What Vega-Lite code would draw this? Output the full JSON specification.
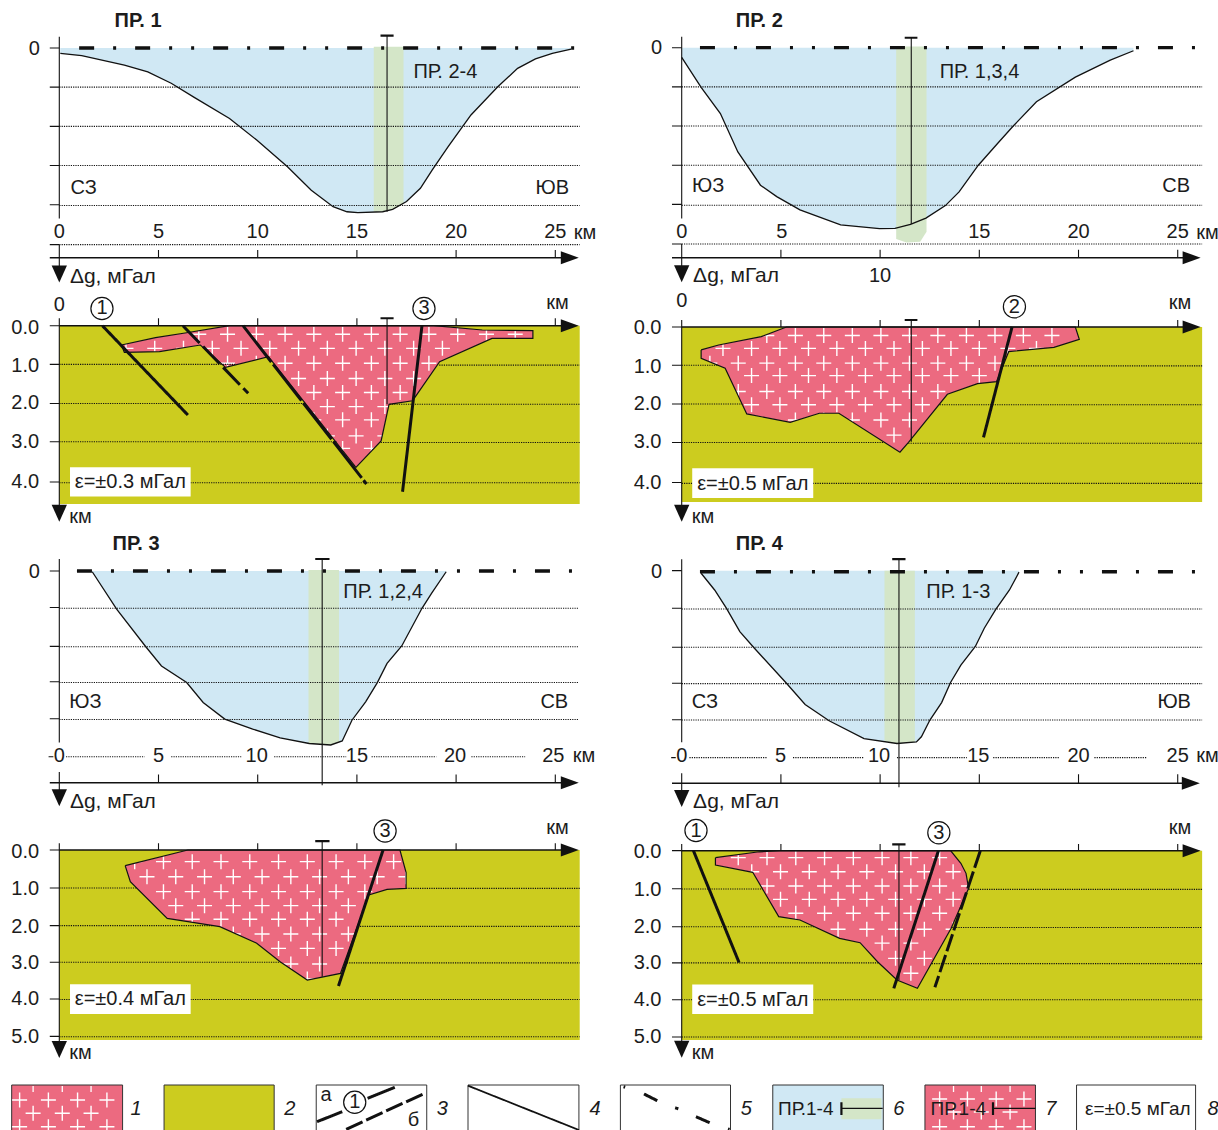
{"$schema":"https://vega.github.io/schema/vega-lite/v6.json","padding":0,"background":"white","columns":2,"spacing":0,"bounds":"flush","align":"each","config":{"view":{"stroke":null},"text":{"font":"Liberation Sans","color":"#1c1c1c"}},
"datasets":{
"c1":[{"x":0.05,"y":0.136},{"x":1.13,"y":0.196},{"x":3.28,"y":0.44},{"x":4.46,"y":0.61},{"x":5.64,"y":0.9},{"x":6.8,"y":1.26},{"x":8.58,"y":1.8},{"x":9.95,"y":2.35},{"x":11.5,"y":3.03},{"x":12.7,"y":3.63},{"x":13.8,"y":4.05},{"x":14.5,"y":4.18},{"x":15.05,"y":4.2},{"x":16.3,"y":4.18},{"x":16.8,"y":4.12},{"x":17.5,"y":3.92},{"x":18.2,"y":3.58},{"x":18.8,"y":3.11},{"x":19.6,"y":2.52},{"x":20.75,"y":1.71},{"x":22.1,"y":0.99},{"x":23.1,"y":0.52},{"x":24.0,"y":0.28},{"x":24.85,"y":0.136},{"x":25.8,"y":0.03}],
"c2":[{"x":0,"y":0.247},{"x":0.98,"y":1.01},{"x":1.95,"y":1.68},{"x":2.83,"y":2.66},{"x":3.97,"y":3.51},{"x":4.79,"y":3.8},{"x":5.96,"y":4.14},{"x":8.01,"y":4.52},{"x":9.97,"y":4.62},{"x":10.75,"y":4.61},{"x":11.53,"y":4.51},{"x":12.31,"y":4.35},{"x":13.29,"y":4.03},{"x":13.98,"y":3.68},{"x":14.95,"y":3.0},{"x":15.93,"y":2.44},{"x":16.71,"y":2.0},{"x":17.88,"y":1.38},{"x":19.84,"y":0.75},{"x":21.6,"y":0.315},{"x":22.77,"y":0.077}],
"c3":[{"x":1.66,"y":0.02},{"x":2.89,"y":1.03},{"x":4.36,"y":2.05},{"x":5.15,"y":2.57},{"x":6.42,"y":3.02},{"x":7.25,"y":3.56},{"x":8.34,"y":4.01},{"x":9.75,"y":4.28},{"x":11.13,"y":4.52},{"x":12.6,"y":4.67},{"x":13.68,"y":4.71},{"x":14.26,"y":4.6},{"x":14.75,"y":4.04},{"x":15.44,"y":3.54},{"x":16.03,"y":3.02},{"x":16.52,"y":2.5},{"x":17.26,"y":2.03},{"x":18.28,"y":1.01},{"x":18.77,"y":0.6},{"x":19.5,"y":0.02}],
"c4":[{"x":0.98,"y":0.07},{"x":1.66,"y":0.52},{"x":2.25,"y":1.01},{"x":2.93,"y":1.64},{"x":3.62,"y":2.06},{"x":5.28,"y":3.03},{"x":6.22,"y":3.6},{"x":7.43,"y":4.04},{"x":9.19,"y":4.52},{"x":10.85,"y":4.65},{"x":11.83,"y":4.61},{"x":12.08,"y":4.47},{"x":12.51,"y":4.02},{"x":13.1,"y":3.55},{"x":13.55,"y":3.01},{"x":14.07,"y":2.54},{"x":14.8,"y":2.04},{"x":15.25,"y":1.55},{"x":15.83,"y":1.04},{"x":16.52,"y":0.52},{"x":17.0,"y":0.04}],
"bd1":[{"x":15.85,"y":4.18,"y0":-0.03},{"x":16.3,"y":4.18,"y0":-0.03},{"x":16.8,"y":4.12,"y0":-0.03},{"x":17.35,"y":3.98,"y0":-0.03}],
"bd2":[{"x":10.81,"y":4.885,"y0":-0.03},{"x":11.33,"y":4.97,"y0":-0.03},{"x":12.02,"y":4.95,"y0":-0.03},{"x":12.34,"y":4.7,"y0":-0.03}],
"bd3":[{"x":12.56,"y":4.66,"y0":-0.03},{"x":13.68,"y":4.71,"y0":-0.03},{"x":14.1,"y":4.63,"y0":-0.03}],
"bd4":[{"x":10.22,"y":4.6,"y0":0},{"x":10.85,"y":4.65,"y0":0},{"x":11.75,"y":4.62,"y0":0}],
"l1":[{"k":"thin","x":0,"x2":0,"y":-0.29,"y2":4.35},{"k":"thin","x":-0.48,"x2":0,"y":0,"y2":0},{"k":"thin","x":-0.48,"x2":0,"y":1,"y2":1},{"k":"thin","x":-0.48,"x2":0,"y":2,"y2":2},{"k":"thin","x":-0.48,"x2":0,"y":3,"y2":3},{"k":"thin","x":-0.48,"x2":0,"y":4,"y2":4},{"k":"dot","x":0,"x2":26.23,"y":1,"y2":1},{"k":"dot","x":0,"x2":26.23,"y":2,"y2":2},{"k":"dot","x":0,"x2":26.23,"y":3,"y2":3},{"k":"dot","x":0,"x2":26.23,"y":4.02,"y2":4.02},{"k":"thin","x":-0.48,"x2":0,"y":5.02,"y2":5.02},{"k":"dot","x":0,"x2":26.23,"y":5.02,"y2":5.02},{"k":"axis","x":-0.48,"x2":25.3,"y":5.353,"y2":5.353},{"k":"thin","x":0,"x2":0,"y":5.02,"y2":5.6},{"k":"thin","x":5,"x2":5,"y":5.157,"y2":5.353},{"k":"thin","x":10,"x2":10,"y":5.157,"y2":5.353},{"k":"thin","x":15,"x2":15,"y":5.157,"y2":5.353},{"k":"thin","x":20,"x2":20,"y":5.157,"y2":5.353},{"k":"thin","x":25,"x2":25,"y":5.157,"y2":5.353},{"k":"thin","x":16.52,"x2":16.52,"y":-0.315,"y2":4.18},{"k":"cap","x":16.19,"x2":16.85,"y":-0.315,"y2":-0.315},{"k":"dd","x":1.0,"x2":26.25,"y":0,"y2":0}],
"l2":[{"k":"thin","x":0,"x2":0,"y":-0.28,"y2":4.36},{"k":"thin","x":-0.49,"x2":0,"y":0,"y2":0},{"k":"thin","x":-0.49,"x2":0,"y":1,"y2":1},{"k":"thin","x":-0.49,"x2":0,"y":2,"y2":2},{"k":"thin","x":-0.49,"x2":0,"y":3,"y2":3},{"k":"thin","x":-0.49,"x2":0,"y":4,"y2":4},{"k":"dot","x":0,"x2":26.23,"y":1,"y2":1},{"k":"dot","x":0,"x2":26.23,"y":2,"y2":2},{"k":"dot","x":0,"x2":26.23,"y":3,"y2":3},{"k":"dot","x":0,"x2":26.23,"y":4.02,"y2":4.02},{"k":"thin","x":-0.49,"x2":0,"y":5.01,"y2":5.01},{"k":"dot","x":0,"x2":26.23,"y":5.01,"y2":5.01},{"k":"axis","x":-0.49,"x2":25.3,"y":5.36,"y2":5.36},{"k":"thin","x":0,"x2":0,"y":5.01,"y2":5.6},{"k":"thin","x":5,"x2":5,"y":5.157,"y2":5.36},{"k":"thin","x":10,"x2":10,"y":5.157,"y2":5.36},{"k":"thin","x":15,"x2":15,"y":5.157,"y2":5.36},{"k":"thin","x":20,"x2":20,"y":5.157,"y2":5.36},{"k":"thin","x":25,"x2":25,"y":5.157,"y2":5.36},{"k":"thin","x":11.57,"x2":11.57,"y":-0.255,"y2":4.5},{"k":"cap","x":11.24,"x2":11.88,"y":-0.255,"y2":-0.255},{"k":"dd","x":0.92,"x2":26.25,"y":0,"y2":0}],
"l3":[{"k":"thin","x":0,"x2":0,"y":-0.325,"y2":4.64},{"k":"thin","x":-0.48,"x2":0,"y":0,"y2":0},{"k":"thin","x":-0.48,"x2":0,"y":0.99,"y2":0.99},{"k":"thin","x":-0.48,"x2":0,"y":2.04,"y2":2.04},{"k":"thin","x":-0.48,"x2":0,"y":3,"y2":3},{"k":"thin","x":-0.48,"x2":0,"y":4,"y2":4},{"k":"dot","x":0,"x2":26.2,"y":1.01,"y2":1.01},{"k":"dot","x":0,"x2":26.2,"y":2.05,"y2":2.05},{"k":"dot","x":0,"x2":26.2,"y":3.02,"y2":3.02},{"k":"dot","x":0,"x2":26.2,"y":4.02,"y2":4.02},{"k":"thin","x":-0.54,"x2":-0.3,"y":5.03,"y2":5.03},{"k":"dot","x":0.34,"x2":4.3,"y":5.03,"y2":5.03},{"k":"dot","x":5.64,"x2":9.17,"y":5.03,"y2":5.03},{"k":"dot","x":10.83,"x2":14.46,"y":5.03,"y2":5.03},{"k":"dot","x":15.74,"x2":19.0,"y":5.03,"y2":5.03},{"k":"dot","x":20.77,"x2":23.48,"y":5.03,"y2":5.03},{"k":"axis","x":-0.48,"x2":25.3,"y":5.73,"y2":5.73},{"k":"thin","x":0,"x2":0,"y":5.44,"y2":6},{"k":"thin","x":5,"x2":5,"y":5.51,"y2":5.73},{"k":"thin","x":10,"x2":10,"y":5.51,"y2":5.73},{"k":"thin","x":15,"x2":15,"y":5.51,"y2":5.73},{"k":"thin","x":20,"x2":20,"y":5.51,"y2":5.73},{"k":"thin","x":25,"x2":25,"y":5.51,"y2":5.73},{"k":"thin","x":13.25,"x2":13.25,"y":-0.325,"y2":5.8},{"k":"cap","x":12.9,"x2":13.62,"y":-0.325,"y2":-0.325},{"k":"dd","x":0.89,"x2":26.2,"y":0,"y2":0}],
"l4":[{"k":"thin","x":0,"x2":0,"y":-0.31,"y2":4.62},{"k":"thin","x":-0.49,"x2":0,"y":0,"y2":0},{"k":"thin","x":-0.49,"x2":0,"y":1.01,"y2":1.01},{"k":"thin","x":-0.49,"x2":0,"y":2.06,"y2":2.06},{"k":"thin","x":-0.49,"x2":0,"y":3.03,"y2":3.03},{"k":"thin","x":-0.49,"x2":0,"y":4.01,"y2":4.01},{"k":"dot","x":0,"x2":26.23,"y":1.03,"y2":1.03},{"k":"dot","x":0,"x2":26.23,"y":2.06,"y2":2.06},{"k":"dot","x":0,"x2":26.23,"y":3.04,"y2":3.04},{"k":"dot","x":0,"x2":26.23,"y":4.02,"y2":4.02},{"k":"thin","x":-0.53,"x2":-0.3,"y":5.03,"y2":5.03},{"k":"dot","x":0.39,"x2":4.3,"y":5.03,"y2":5.03},{"k":"dot","x":5.61,"x2":9.19,"y":5.03,"y2":5.03},{"k":"dot","x":10.85,"x2":14.37,"y":5.03,"y2":5.03},{"k":"dot","x":15.7,"x2":19.02,"y":5.03,"y2":5.03},{"k":"dot","x":20.8,"x2":23.46,"y":5.03,"y2":5.03},{"k":"axis","x":-0.49,"x2":25.3,"y":5.72,"y2":5.72},{"k":"thin","x":0,"x2":0,"y":5.45,"y2":6},{"k":"thin","x":5,"x2":5,"y":5.48,"y2":5.72},{"k":"thin","x":10,"x2":10,"y":5.48,"y2":5.72},{"k":"thin","x":15,"x2":15,"y":5.48,"y2":5.72},{"k":"thin","x":20,"x2":20,"y":5.48,"y2":5.72},{"k":"thin","x":25,"x2":25,"y":5.48,"y2":5.72},{"k":"thin","x":10.95,"x2":10.95,"y":-0.31,"y2":5.83},{"k":"cap","x":10.61,"x2":11.28,"y":-0.31,"y2":-0.31},{"k":"dd","x":0.92,"x2":26.25,"y":0.03,"y2":0.03}],
"t1":[{"x":-1.26,"y":0.03,"t":"0"},{"x":19.46,"y":0.62,"t":"ПР. 2-4"},{"x":1.23,"y":3.57,"t":"СЗ"},{"x":24.85,"y":3.57,"t":"ЮВ"},{"x":0,"y":4.69,"t":"0"},{"x":5,"y":4.69,"t":"5"},{"x":10,"y":4.69,"t":"10"},{"x":15,"y":4.69,"t":"15"},{"x":20,"y":4.69,"t":"20"},{"x":25,"y":4.69,"t":"25"},{"x":26.5,"y":4.71,"t":"км"},{"x":2.7,"y":5.84,"t":"Δg, мГал"}],
"t2":[{"x":-1.27,"y":0,"t":"0"},{"x":15.01,"y":0.61,"t":"ПР. 1,3,4"},{"x":1.33,"y":3.52,"t":"ЮЗ"},{"x":24.92,"y":3.52,"t":"СВ"},{"x":0,"y":4.7,"t":"0"},{"x":5.04,"y":4.7,"t":"5"},{"x":15,"y":4.7,"t":"15"},{"x":20,"y":4.7,"t":"20"},{"x":25,"y":4.7,"t":"25"},{"x":26.5,"y":4.72,"t":"км"},{"x":2.74,"y":5.83,"t":"Δg, мГал"},{"x":10,"y":5.83,"t":"10"}],
"t3":[{"x":-1.26,"y":0.04,"t":"0"},{"x":16.32,"y":0.58,"t":"ПР. 1,2,4"},{"x":1.32,"y":3.54,"t":"ЮЗ"},{"x":24.95,"y":3.54,"t":"СВ"},{"x":0,"y":5,"t":"0"},{"x":5,"y":5,"t":"5"},{"x":9.95,"y":5,"t":"10"},{"x":15,"y":5,"t":"15"},{"x":19.95,"y":5,"t":"20"},{"x":24.9,"y":5,"t":"25"},{"x":26.45,"y":5.02,"t":"км"},{"x":2.7,"y":6.25,"t":"Δg, мГал"}],
"t4":[{"x":-1.27,"y":0.04,"t":"0"},{"x":13.94,"y":0.58,"t":"ПР. 1-3"},{"x":1.17,"y":3.54,"t":"СЗ"},{"x":24.82,"y":3.54,"t":"ЮВ"},{"x":0,"y":4.98,"t":"0"},{"x":4.98,"y":4.98,"t":"5"},{"x":9.95,"y":4.98,"t":"10"},{"x":14.95,"y":4.98,"t":"15"},{"x":20,"y":4.98,"t":"20"},{"x":25,"y":4.98,"t":"25"},{"x":26.5,"y":5,"t":"км"},{"x":2.74,"y":6.22,"t":"Δg, мГал"}],
"B1":[{"s":"body","x":3.13,"y":0.495},{"s":"body","x":4.85,"y":0.307},{"s":"body","x":6.42,"y":0.18},{"s":"body","x":8.58,"y":0},{"s":"body","x":18.87,"y":0},{"s":"body","x":21.32,"y":0.11},{"s":"body","x":23.87,"y":0.128},{"s":"body","x":23.87,"y":0.324},{"s":"body","x":21.81,"y":0.324},{"s":"body","x":19.17,"y":0.921},{"s":"body","x":17.95,"y":1.817},{"s":"body","x":17.8,"y":1.92},{"s":"body","x":16.62,"y":2.013},{"s":"body","x":16.22,"y":2.95},{"s":"body","x":14.95,"y":3.625},{"s":"body","x":10.54,"y":0.793},{"s":"body","x":8.38,"y":1.066},{"s":"body","x":7.11,"y":0.495},{"s":"body","x":5.05,"y":0.665},{"s":"body","x":3.28,"y":0.682},{"s":"body","x":3.13,"y":0.495},{"s":"frame","x":0,"y":0},{"s":"frame","x":0,"y":4.563},{"s":"frame","x":26.23,"y":4.563},{"s":"frame","x":26.23,"y":0},{"s":"frame","x":0,"y":0}],
"B2":[{"s":"body","x":0.98,"y":0.59},{"s":"body","x":1.86,"y":0.463},{"s":"body","x":4.01,"y":0.248},{"s":"body","x":5.28,"y":0},{"s":"body","x":19.84,"y":0},{"s":"body","x":20.04,"y":0.317},{"s":"body","x":18.76,"y":0.522},{"s":"body","x":16.48,"y":0.634},{"s":"body","x":15.87,"y":1.405},{"s":"body","x":14.91,"y":1.456},{"s":"body","x":13.39,"y":1.73},{"s":"body","x":11.43,"y":2.964},{"s":"body","x":11.0,"y":3.22},{"s":"body","x":7.92,"y":2.218},{"s":"body","x":6.94,"y":2.218},{"s":"body","x":5.47,"y":2.45},{"s":"body","x":3.28,"y":2.236},{"s":"body","x":2.19,"y":1.062},{"s":"body","x":0.98,"y":0.805},{"s":"body","x":0.98,"y":0.59},{"s":"frame","x":0,"y":0},{"s":"frame","x":0,"y":4.497},{"s":"frame","x":26.23,"y":4.497},{"s":"frame","x":26.23,"y":0},{"s":"frame","x":0,"y":0}],
"B3":[{"s":"body","x":3.32,"y":0.42},{"s":"body","x":6.48,"y":0},{"s":"body","x":17.17,"y":0},{"s":"body","x":17.48,"y":0.608},{"s":"body","x":17.48,"y":1.029},{"s":"body","x":16.52,"y":1.055},{"s":"body","x":15.6,"y":1.207},{"s":"body","x":14.17,"y":3.31},{"s":"body","x":12.5,"y":3.49},{"s":"body","x":11.13,"y":3.0},{"s":"body","x":9.95,"y":2.5},{"s":"body","x":8.09,"y":2.057},{"s":"body","x":5.44,"y":1.834},{"s":"body","x":3.58,"y":0.85},{"s":"body","x":3.32,"y":0.42},{"s":"frame","x":0,"y":0},{"s":"frame","x":0,"y":5.1},{"s":"frame","x":26.23,"y":5.1},{"s":"frame","x":26.23,"y":0},{"s":"frame","x":0,"y":0}],
"B4":[{"s":"body","x":1.7,"y":0.188},{"s":"body","x":3.91,"y":0.03},{"s":"body","x":4.98,"y":0},{"s":"body","x":13.55,"y":0},{"s":"body","x":14.07,"y":0.34},{"s":"body","x":14.33,"y":0.608},{"s":"body","x":14.46,"y":1.01},{"s":"body","x":13.58,"y":2.084},{"s":"body","x":11.88,"y":3.694},{"s":"body","x":10.85,"y":3.47},{"s":"body","x":9.87,"y":2.98},{"s":"body","x":8.99,"y":2.469},{"s":"body","x":7.96,"y":2.352},{"s":"body","x":5.96,"y":1.86},{"s":"body","x":4.89,"y":1.77},{"s":"body","x":3.58,"y":0.581},{"s":"body","x":1.7,"y":0.385},{"s":"body","x":1.7,"y":0.188},{"s":"frame","x":0,"y":0},{"s":"frame","x":0,"y":5.08},{"s":"frame","x":26.23,"y":5.08},{"s":"frame","x":26.23,"y":0},{"s":"frame","x":0,"y":0}],
"P1":[{"x":7.03,"y":0.22},{"x":8.48,"y":0.22},{"x":9.93,"y":0.22},{"x":11.38,"y":0.22},{"x":12.83,"y":0.22},{"x":14.28,"y":0.22},{"x":15.73,"y":0.22},{"x":17.18,"y":0.22},{"x":18.63,"y":0.22},{"x":20.08,"y":0.22},{"x":21.53,"y":0.22},{"x":22.98,"y":0.22},{"x":3.36,"y":0.58},{"x":4.81,"y":0.58},{"x":6.26,"y":0.58},{"x":7.71,"y":0.58},{"x":9.16,"y":0.58},{"x":10.61,"y":0.58},{"x":12.06,"y":0.58},{"x":13.51,"y":0.58},{"x":14.96,"y":0.58},{"x":16.41,"y":0.58},{"x":17.86,"y":0.58},{"x":19.31,"y":0.58},{"x":8.48,"y":0.96},{"x":9.93,"y":0.96},{"x":11.38,"y":0.96},{"x":12.83,"y":0.96},{"x":14.28,"y":0.96},{"x":15.73,"y":0.96},{"x":17.18,"y":0.96},{"x":18.63,"y":0.96},{"x":12.06,"y":1.35},{"x":13.51,"y":1.35},{"x":14.96,"y":1.35},{"x":16.41,"y":1.35},{"x":17.86,"y":1.35},{"x":12.83,"y":1.71},{"x":14.28,"y":1.71},{"x":15.73,"y":1.71},{"x":17.18,"y":1.71},{"x":13.51,"y":2.07},{"x":14.96,"y":2.07},{"x":16.41,"y":2.07},{"x":12.83,"y":2.41},{"x":14.28,"y":2.41},{"x":15.73,"y":2.41},{"x":13.51,"y":2.82},{"x":14.96,"y":2.82},{"x":16.41,"y":2.82},{"x":14.28,"y":3.14},{"x":15.73,"y":3.14}],
"P2":[{"x":4.29,"y":0.22},{"x":5.73,"y":0.22},{"x":7.16,"y":0.22},{"x":8.6,"y":0.22},{"x":10.04,"y":0.22},{"x":11.48,"y":0.22},{"x":12.91,"y":0.22},{"x":14.35,"y":0.22},{"x":15.79,"y":0.22},{"x":17.22,"y":0.22},{"x":18.66,"y":0.22},{"x":2.08,"y":0.55},{"x":3.52,"y":0.55},{"x":4.95,"y":0.55},{"x":6.39,"y":0.55},{"x":7.82,"y":0.55},{"x":9.26,"y":0.55},{"x":10.7,"y":0.55},{"x":12.13,"y":0.55},{"x":13.57,"y":0.55},{"x":15.0,"y":0.55},{"x":16.44,"y":0.55},{"x":17.88,"y":0.55},{"x":1.42,"y":0.93},{"x":2.85,"y":0.93},{"x":4.29,"y":0.93},{"x":5.73,"y":0.93},{"x":7.16,"y":0.93},{"x":8.6,"y":0.93},{"x":10.04,"y":0.93},{"x":11.48,"y":0.93},{"x":12.91,"y":0.93},{"x":14.35,"y":0.93},{"x":15.79,"y":0.93},{"x":3.52,"y":1.25},{"x":4.95,"y":1.25},{"x":6.39,"y":1.25},{"x":7.82,"y":1.25},{"x":9.26,"y":1.25},{"x":10.7,"y":1.25},{"x":12.13,"y":1.25},{"x":13.57,"y":1.25},{"x":15.0,"y":1.25},{"x":2.85,"y":1.66},{"x":4.29,"y":1.66},{"x":5.73,"y":1.66},{"x":7.16,"y":1.66},{"x":8.6,"y":1.66},{"x":10.04,"y":1.66},{"x":11.48,"y":1.66},{"x":12.91,"y":1.66},{"x":3.52,"y":2.0},{"x":4.95,"y":2.0},{"x":6.39,"y":2.0},{"x":7.82,"y":2.0},{"x":9.26,"y":2.0},{"x":10.7,"y":2.0},{"x":12.13,"y":2.0},{"x":5.73,"y":2.39},{"x":7.16,"y":2.39},{"x":8.6,"y":2.39},{"x":10.04,"y":2.39},{"x":11.48,"y":2.39},{"x":10.7,"y":2.78}],
"P3":[{"x":3.8,"y":0.313},{"x":5.25,"y":0.313},{"x":6.7,"y":0.313},{"x":8.15,"y":0.313},{"x":9.6,"y":0.313},{"x":11.05,"y":0.313},{"x":12.5,"y":0.313},{"x":13.95,"y":0.313},{"x":15.4,"y":0.313},{"x":16.85,"y":0.313},{"x":4.42,"y":0.716},{"x":5.87,"y":0.716},{"x":7.32,"y":0.716},{"x":8.77,"y":0.716},{"x":10.22,"y":0.716},{"x":11.67,"y":0.716},{"x":13.12,"y":0.716},{"x":14.57,"y":0.716},{"x":16.02,"y":0.716},{"x":17.47,"y":0.716},{"x":5.25,"y":1.118},{"x":6.7,"y":1.118},{"x":8.15,"y":1.118},{"x":9.6,"y":1.118},{"x":11.05,"y":1.118},{"x":12.5,"y":1.118},{"x":13.95,"y":1.118},{"x":15.4,"y":1.118},{"x":5.87,"y":1.494},{"x":7.32,"y":1.494},{"x":8.77,"y":1.494},{"x":10.22,"y":1.494},{"x":11.67,"y":1.494},{"x":13.12,"y":1.494},{"x":14.57,"y":1.494},{"x":6.7,"y":1.86},{"x":8.15,"y":1.86},{"x":9.6,"y":1.86},{"x":11.05,"y":1.86},{"x":12.5,"y":1.86},{"x":13.95,"y":1.86},{"x":8.77,"y":2.254},{"x":10.22,"y":2.254},{"x":11.67,"y":2.254},{"x":13.12,"y":2.254},{"x":14.57,"y":2.254},{"x":11.05,"y":2.64},{"x":12.5,"y":2.64},{"x":13.95,"y":2.64},{"x":11.67,"y":3.06},{"x":13.12,"y":3.06},{"x":12.5,"y":3.46}],
"P4":[{"x":2.85,"y":0.188},{"x":4.3,"y":0.188},{"x":5.75,"y":0.188},{"x":7.2,"y":0.188},{"x":8.65,"y":0.188},{"x":10.1,"y":0.188},{"x":11.55,"y":0.188},{"x":13.0,"y":0.188},{"x":3.53,"y":0.564},{"x":4.98,"y":0.564},{"x":6.43,"y":0.564},{"x":7.88,"y":0.564},{"x":9.33,"y":0.564},{"x":10.78,"y":0.564},{"x":12.23,"y":0.564},{"x":13.68,"y":0.564},{"x":4.3,"y":0.948},{"x":5.75,"y":0.948},{"x":7.2,"y":0.948},{"x":8.65,"y":0.948},{"x":10.1,"y":0.948},{"x":11.55,"y":0.948},{"x":13.0,"y":0.948},{"x":14.45,"y":0.948},{"x":4.98,"y":1.306},{"x":6.43,"y":1.306},{"x":7.88,"y":1.306},{"x":9.33,"y":1.306},{"x":10.78,"y":1.306},{"x":12.23,"y":1.306},{"x":13.68,"y":1.306},{"x":5.75,"y":1.68},{"x":7.2,"y":1.68},{"x":8.65,"y":1.68},{"x":10.1,"y":1.68},{"x":11.55,"y":1.68},{"x":13.0,"y":1.68},{"x":7.88,"y":2.11},{"x":9.33,"y":2.11},{"x":10.78,"y":2.11},{"x":12.23,"y":2.11},{"x":13.68,"y":2.11},{"x":10.1,"y":2.48},{"x":11.55,"y":2.48},{"x":10.78,"y":2.89},{"x":12.23,"y":2.89},{"x":11.55,"y":3.29}],
"L1":[{"k":"thin","x":0,"x2":0,"y":-0.19,"y2":4.67},{"k":"axis","x":0,"x2":25.3,"y":0,"y2":0},{"k":"thin","x":-0.48,"x2":0,"y":0,"y2":0},{"k":"thin","x":-0.48,"x2":0,"y":0.99,"y2":0.99},{"k":"thin","x":-0.48,"x2":0,"y":1.99,"y2":1.99},{"k":"thin","x":-0.48,"x2":0,"y":2.97,"y2":2.97},{"k":"thin","x":-0.48,"x2":0,"y":4,"y2":4},{"k":"thin","x":5,"x2":5,"y":-0.19,"y2":0},{"k":"thin","x":10,"x2":10,"y":-0.19,"y2":0},{"k":"thin","x":15,"x2":15,"y":-0.19,"y2":0},{"k":"thin","x":20,"x2":20,"y":-0.19,"y2":0},{"k":"thin","x":25,"x2":25,"y":-0.19,"y2":0},{"k":"dot","x":0,"x2":8.9,"y":0.99,"y2":0.99},{"k":"dot","x":19.15,"x2":26.23,"y":1.01,"y2":1.01},{"k":"dot","x":0,"x2":12.4,"y":1.99,"y2":1.99},{"k":"dot","x":16.65,"x2":26.23,"y":2.01,"y2":2.01},{"k":"dot","x":0,"x2":14.0,"y":2.97,"y2":2.97},{"k":"dot","x":16.2,"x2":26.23,"y":2.99,"y2":2.99},{"k":"dot","x":0,"x2":26.23,"y":4.02,"y2":4.02},{"k":"thin","x":16.52,"x2":16.52,"y":-0.19,"y2":2.01},{"k":"cap","x":16.19,"x2":16.85,"y":-0.19,"y2":-0.19},{"k":"thick","x":2.17,"x2":6.48,"y":0,"y2":2.286},{"k":"fd2","x":6.23,"x2":9.52,"y":0,"y2":1.73},{"k":"fd","x":9.26,"x2":15.48,"y":0,"y2":4.05},{"k":"thick","x":18.28,"x2":17.3,"y":0,"y2":4.25}],
"L2":[{"k":"thin","x":0,"x2":0,"y":-0.18,"y2":4.6},{"k":"axis","x":0,"x2":25.3,"y":0,"y2":0},{"k":"thin","x":-0.49,"x2":0,"y":0,"y2":0},{"k":"thin","x":-0.49,"x2":0,"y":0.985,"y2":0.985},{"k":"thin","x":-0.49,"x2":0,"y":1.98,"y2":1.98},{"k":"thin","x":-0.49,"x2":0,"y":2.97,"y2":2.97},{"k":"thin","x":-0.49,"x2":0,"y":4,"y2":4},{"k":"thin","x":5,"x2":5,"y":-0.18,"y2":0},{"k":"thin","x":10,"x2":10,"y":-0.18,"y2":0},{"k":"thin","x":15,"x2":15,"y":-0.18,"y2":0},{"k":"thin","x":20,"x2":20,"y":-0.18,"y2":0},{"k":"thin","x":25,"x2":25,"y":-0.18,"y2":0},{"k":"dot","x":0,"x2":1.83,"y":0.985,"y2":0.985},{"k":"dot","x":16.2,"x2":26.23,"y":1,"y2":1},{"k":"dot","x":0,"x2":3.04,"y":1.98,"y2":1.98},{"k":"dot","x":13.0,"x2":26.23,"y":2,"y2":2},{"k":"dot","x":0,"x2":10.23,"y":2.97,"y2":2.97},{"k":"dot","x":11.42,"x2":26.23,"y":2.99,"y2":2.99},{"k":"dot","x":0,"x2":26.23,"y":4.02,"y2":4.02},{"k":"thin","x":11.57,"x2":11.57,"y":-0.18,"y2":2.95},{"k":"cap","x":11.24,"x2":11.88,"y":-0.18,"y2":-0.18},{"k":"thick","x":16.65,"x2":15.21,"y":0,"y2":2.84}],
"L3":[{"k":"thin","x":0,"x2":0,"y":-0.18,"y2":5.2},{"k":"axis","x":0,"x2":25.3,"y":0,"y2":0},{"k":"thin","x":-0.48,"x2":0,"y":0,"y2":0},{"k":"thin","x":-0.48,"x2":0,"y":1.02,"y2":1.02},{"k":"thin","x":-0.48,"x2":0,"y":2.03,"y2":2.03},{"k":"thin","x":-0.48,"x2":0,"y":3.01,"y2":3.01},{"k":"thin","x":-0.48,"x2":0,"y":4,"y2":4},{"k":"thin","x":-0.48,"x2":0,"y":5,"y2":5},{"k":"thin","x":5,"x2":5,"y":-0.18,"y2":0},{"k":"thin","x":10,"x2":10,"y":-0.18,"y2":0},{"k":"thin","x":15,"x2":15,"y":-0.18,"y2":0},{"k":"thin","x":20,"x2":20,"y":-0.18,"y2":0},{"k":"thin","x":25,"x2":25,"y":-0.18,"y2":0},{"k":"dot","x":0,"x2":3.9,"y":1.02,"y2":1.02},{"k":"dot","x":17.48,"x2":26.23,"y":1.03,"y2":1.03},{"k":"dot","x":0,"x2":7.75,"y":2.03,"y2":2.03},{"k":"dot","x":15.04,"x2":26.23,"y":2.05,"y2":2.05},{"k":"dot","x":0,"x2":11.15,"y":3.01,"y2":3.01},{"k":"dot","x":14.38,"x2":26.23,"y":3.03,"y2":3.03},{"k":"dot","x":0,"x2":26.23,"y":4.01,"y2":4.01},{"k":"dot","x":0,"x2":26.23,"y":5.01,"y2":5.01},{"k":"thin","x":13.25,"x2":13.25,"y":-0.24,"y2":3.4},{"k":"cap","x":12.9,"x2":13.62,"y":-0.24,"y2":-0.24},{"k":"thick","x":16.32,"x2":14.07,"y":0,"y2":3.65}],
"L4":[{"k":"thin","x":0,"x2":0,"y":-0.18,"y2":5.2},{"k":"axis","x":0,"x2":25.3,"y":0,"y2":0},{"k":"thin","x":-0.49,"x2":0,"y":0,"y2":0},{"k":"thin","x":-0.49,"x2":0,"y":1.02,"y2":1.02},{"k":"thin","x":-0.49,"x2":0,"y":2.04,"y2":2.04},{"k":"thin","x":-0.49,"x2":0,"y":3.01,"y2":3.01},{"k":"thin","x":-0.49,"x2":0,"y":4,"y2":4},{"k":"thin","x":-0.49,"x2":0,"y":5,"y2":5},{"k":"thin","x":5,"x2":5,"y":-0.18,"y2":0},{"k":"thin","x":10,"x2":10,"y":-0.18,"y2":0},{"k":"thin","x":15,"x2":15,"y":-0.18,"y2":0},{"k":"thin","x":20,"x2":20,"y":-0.18,"y2":0},{"k":"thin","x":25,"x2":25,"y":-0.18,"y2":0},{"k":"dot","x":0,"x2":4.07,"y":1.03,"y2":1.03},{"k":"dot","x":14.45,"x2":26.23,"y":1.04,"y2":1.04},{"k":"dot","x":0,"x2":6.7,"y":2.04,"y2":2.04},{"k":"dot","x":13.6,"x2":26.23,"y":2.06,"y2":2.06},{"k":"dot","x":0,"x2":9.9,"y":3.01,"y2":3.01},{"k":"dot","x":12.6,"x2":26.23,"y":3.03,"y2":3.03},{"k":"dot","x":0,"x2":26.23,"y":4,"y2":4},{"k":"dot","x":0,"x2":26.23,"y":5,"y2":5},{"k":"thin","x":10.95,"x2":10.95,"y":-0.17,"y2":3.47},{"k":"cap","x":10.61,"x2":11.28,"y":-0.17,"y2":-0.17},{"k":"thick","x":0.59,"x2":2.89,"y":0,"y2":3.0},{"k":"thick","x":12.94,"x2":10.69,"y":0,"y2":3.694},{"k":"fd3","x":15.05,"x2":12.76,"y":0,"y2":3.667}],
"T1":[{"x":0,"y":-0.53,"t":"0"},{"x":2.15,"y":-0.44,"t":"1"},{"x":18.38,"y":-0.44,"t":"3"},{"x":25.11,"y":-0.57,"t":"км"},{"x":-1.72,"y":0.05,"t":"0.0"},{"x":-1.72,"y":1.02,"t":"1.0"},{"x":-1.72,"y":1.99,"t":"2.0"},{"x":-1.72,"y":2.98,"t":"3.0"},{"x":-1.72,"y":4.01,"t":"4.0"},{"x":1.07,"y":4.9,"t":"км"},{"x":3.58,"y":4.01,"t":"ε=±0.3 мГал"}],
"T2":[{"x":0,"y":-0.68,"t":"0"},{"x":16.77,"y":-0.52,"t":"2"},{"x":25.12,"y":-0.625,"t":"км"},{"x":-1.72,"y":0.03,"t":"0.0"},{"x":-1.72,"y":1.02,"t":"1.0"},{"x":-1.72,"y":1.99,"t":"2.0"},{"x":-1.72,"y":2.96,"t":"3.0"},{"x":-1.72,"y":4.02,"t":"4.0"},{"x":1.07,"y":4.89,"t":"км"},{"x":3.58,"y":4.03,"t":"ε=±0.5 мГал"}],
"T3":[{"x":16.42,"y":-0.51,"t":"3"},{"x":25.11,"y":-0.6,"t":"км"},{"x":-1.72,"y":0.045,"t":"0.0"},{"x":-1.72,"y":1.05,"t":"1.0"},{"x":-1.72,"y":2.06,"t":"2.0"},{"x":-1.72,"y":3.04,"t":"3.0"},{"x":-1.72,"y":4.01,"t":"4.0"},{"x":-1.72,"y":5.01,"t":"5.0"},{"x":1.07,"y":5.46,"t":"км"},{"x":3.58,"y":4.0,"t":"ε=±0.4 мГал"}],
"T4":[{"x":0.72,"y":-0.54,"t":"1"},{"x":12.96,"y":-0.48,"t":"3"},{"x":25.12,"y":-0.62,"t":"км"},{"x":-1.72,"y":0.045,"t":"0.0"},{"x":-1.72,"y":1.055,"t":"1.0"},{"x":-1.72,"y":2.04,"t":"2.0"},{"x":-1.72,"y":3.02,"t":"3.0"},{"x":-1.72,"y":4.0,"t":"4.0"},{"x":-1.72,"y":4.99,"t":"5.0"},{"x":1.07,"y":5.44,"t":"км"},{"x":3.58,"y":4.01,"t":"ε=±0.5 мГал"}]
},
"concat":[
{"width":610,"height":285,"encoding":{"x":{"field":"x","type":"quantitative","axis":null,"scale":{"domain":[-2.989,27.757],"nice":false,"zero":false}},"y":{"field":"y","type":"quantitative","axis":null,"scale":{"domain":[-1.225,6.05],"nice":false,"zero":false,"reverse":true}}},"layer":[
{"data":{"name":"c1"},"mark":{"type":"area","color":"#d0e8f4"},"encoding":{"y2":{"datum":0}}},
{"data":{"name":"bd1"},"mark":{"type":"area","color":"#d4e6c8"},"encoding":{"y2":{"field":"y0"}}},
{"data":{"name":"l1"},"mark":"rule","encoding":{"x2":{"field":"x2"},"y2":{"field":"y2"},"color":{"field":"k","type":"nominal","legend":null,"scale":{"domain":["thin","dot","axis","thick","dd","cap","fd","fd2","fd3","fine","mid","line"],"range":["#111","#111","#111","#111","#111","#111","#111","#111","#111","#ffffff","#111","#111"]}},"size":{"field":"k","type":"ordinal","legend":null,"scale":{"type":"ordinal","domain":["thin","dot","axis","thick","dd","cap","fd","fd2","fd3","fine","mid","line"],"range":[1.1,1.1,1.5,3,3.3,2.2,3,3,3,1.3,1.8,1.2]}},"strokeDash":{"field":"k","type":"nominal","legend":null,"scale":{"domain":["thin","dot","axis","thick","dd","cap","fd","fd2","fd3","fine","mid","line"],"range":[[1,0],[1.2,1.1],[1,0],[1,0],[15,19,3,19,15,19,3,19,3,19],[1,0],[46,3],[24,5],[18,4],[1,0],[1,0],[1,0]]}}}},
{"data":{"name":"c1"},"mark":{"type":"line","color":"#111","strokeWidth":1.3}},
{"data":{"values":[{"x":25.73,"y":5.353}]},"mark":{"type":"point","shape":"M-1,-0.72L1,0L-1,0.72Z","filled":true,"color":"#111","opacity":1,"size":324}},
{"data":{"values":[{"x":0,"y":5.77}]},"mark":{"type":"point","shape":"M-0.9,-1L0.9,-1L0,1Z","filled":true,"color":"#111","opacity":1,"size":289}},
{"data":{"name":"t1"},"mark":{"type":"text","align":"center","baseline":"middle"},"encoding":{"text":{"field":"t"},"size":{"condition":{"test":"datum.t[0]=='Δ'","value":21},"value":20}}},
{"data":{"values":[{"x":3.97,"y":-0.7,"t":"ПР. 1"}]},"mark":{"type":"text","align":"center","baseline":"middle","fontWeight":"bold","size":20},"encoding":{"text":{"field":"t"}}}
]},
{"width":608,"height":285,"encoding":{"x":{"field":"x","type":"quantitative","axis":null,"scale":{"domain":[-3.614,27.03],"nice":false,"zero":false}},"y":{"field":"y","type":"quantitative","axis":null,"scale":{"domain":[-1.218,6.057],"nice":false,"zero":false,"reverse":true}}},"layer":[
{"data":{"name":"c2"},"mark":{"type":"area","color":"#d0e8f4"},"encoding":{"y2":{"datum":0}}},
{"data":{"name":"bd2"},"mark":{"type":"area","color":"#d4e6c8"},"encoding":{"y2":{"field":"y0"}}},
{"data":{"name":"l2"},"mark":"rule","encoding":{"x2":{"field":"x2"},"y2":{"field":"y2"},"color":{"field":"k","type":"nominal","legend":null,"scale":{"domain":["thin","dot","axis","thick","dd","cap","fd","fd2","fd3","fine","mid","line"],"range":["#111","#111","#111","#111","#111","#111","#111","#111","#111","#ffffff","#111","#111"]}},"size":{"field":"k","type":"ordinal","legend":null,"scale":{"type":"ordinal","domain":["thin","dot","axis","thick","dd","cap","fd","fd2","fd3","fine","mid","line"],"range":[1.1,1.1,1.5,3,3.3,2.2,3,3,3,1.3,1.8,1.2]}},"strokeDash":{"field":"k","type":"nominal","legend":null,"scale":{"domain":["thin","dot","axis","thick","dd","cap","fd","fd2","fd3","fine","mid","line"],"range":[[1,0],[1.2,1.1],[1,0],[1,0],[15,19,3,19,15,19,3,19,3,19],[1,0],[46,3],[24,5],[18,4],[1,0],[1,0],[1,0]]}}}},
{"data":{"name":"c2"},"mark":{"type":"line","color":"#111","strokeWidth":1.3}},
{"data":{"values":[{"x":25.7,"y":5.36}]},"mark":{"type":"point","shape":"M-1,-0.72L1,0L-1,0.72Z","filled":true,"color":"#111","opacity":1,"size":324}},
{"data":{"values":[{"x":0,"y":5.77}]},"mark":{"type":"point","shape":"M-0.9,-1L0.9,-1L0,1Z","filled":true,"color":"#111","opacity":1,"size":289}},
{"data":{"name":"t2"},"mark":{"type":"text","align":"center","baseline":"middle"},"encoding":{"text":{"field":"t"},"size":{"condition":{"test":"datum.t[0]=='Δ'","value":21},"value":20}}},
{"data":{"values":[{"x":3.91,"y":-0.69,"t":"ПР. 2"}]},"mark":{"type":"text","align":"center","baseline":"middle","fontWeight":"bold","size":20},"encoding":{"text":{"field":"t"}}}
]},
{"width":610,"height":245,"encoding":{"x":{"field":"x","type":"quantitative","axis":null,"scale":{"domain":[-2.989,27.757],"nice":false,"zero":false}},"y":{"field":"y","type":"quantitative","axis":null,"scale":{"domain":[-1.041,5.228],"nice":false,"zero":false,"reverse":true}}},"layer":[
{"data":{"name":"B1"},"transform":[{"filter":"datum.s=='body'"}],"mark":{"type":"line","fill":"#ec6a80","strokeWidth":0},"encoding":{"order":{"value":null}}},
{"data":{"name":"P1"},"mark":{"type":"point","shape":"M-1,0L1,0M0,-1L0,1","filled":false,"stroke":"#ffffff","strokeWidth":1.4,"opacity":1,"size":225}},
{"data":{"name":"B1"},"mark":{"type":"line","fill":"#cccc1f","strokeWidth":0},"encoding":{"order":{"value":null}}},
{"data":{"name":"B1"},"transform":[{"filter":"datum.s=='body'"}],"mark":{"type":"line","color":"#111","strokeWidth":1.2},"encoding":{"order":{"value":null}}},
{"data":{"name":"L1"},"mark":"rule","encoding":{"x2":{"field":"x2"},"y2":{"field":"y2"},"color":{"field":"k","type":"nominal","legend":null,"scale":{"domain":["thin","dot","axis","thick","dd","cap","fd","fd2","fd3","fine","mid","line"],"range":["#111","#111","#111","#111","#111","#111","#111","#111","#111","#ffffff","#111","#111"]}},"size":{"field":"k","type":"ordinal","legend":null,"scale":{"type":"ordinal","domain":["thin","dot","axis","thick","dd","cap","fd","fd2","fd3","fine","mid","line"],"range":[1.1,1.1,1.5,3,3.3,2.2,3,3,3,1.3,1.8,1.2]}},"strokeDash":{"field":"k","type":"nominal","legend":null,"scale":{"domain":["thin","dot","axis","thick","dd","cap","fd","fd2","fd3","fine","mid","line"],"range":[[1,0],[1.2,1.1],[1,0],[1,0],[15,19,3,19,15,19,3,19,3,19],[1,0],[46,3],[24,5],[18,4],[1,0],[1,0],[1,0]]}}}},
{"data":{"values":[{"x":0.54,"x2":6.62,"y":3.62,"y2":4.37}]},"mark":{"type":"rect","fill":"white"},"encoding":{"x2":{"field":"x2"},"y2":{"field":"y2"}}},
{"data":{"values":[{"x":2.15,"y":-0.44},{"x":18.38,"y":-0.44}]},"mark":{"type":"point","shape":"circle","filled":false,"color":"#111","strokeWidth":1.2,"opacity":1,"size":491}},
{"data":{"values":[{"x":25.73,"y":0}]},"mark":{"type":"point","shape":"M-1,-0.72L1,0L-1,0.72Z","filled":true,"color":"#111","opacity":1,"size":324}},
{"data":{"values":[{"x":0,"y":4.8}]},"mark":{"type":"point","shape":"M-0.9,-1L0.9,-1L0,1Z","filled":true,"color":"#111","opacity":1,"size":289}},
{"data":{"name":"T1"},"mark":{"type":"text","align":"center","baseline":"middle","size":20},"encoding":{"text":{"field":"t"}}}
]},
{"width":608,"height":245,"encoding":{"x":{"field":"x","type":"quantitative","axis":null,"scale":{"domain":[-3.614,27.03],"nice":false,"zero":false}},"y":{"field":"y","type":"quantitative","axis":null,"scale":{"domain":[-1.08,5.22],"nice":false,"zero":false,"reverse":true}}},"layer":[
{"data":{"name":"B2"},"transform":[{"filter":"datum.s=='body'"}],"mark":{"type":"line","fill":"#ec6a80","strokeWidth":0},"encoding":{"order":{"value":null}}},
{"data":{"name":"P2"},"mark":{"type":"point","shape":"M-1,0L1,0M0,-1L0,1","filled":false,"stroke":"#ffffff","strokeWidth":1.4,"opacity":1,"size":225}},
{"data":{"name":"B2"},"mark":{"type":"line","fill":"#cccc1f","strokeWidth":0},"encoding":{"order":{"value":null}}},
{"data":{"name":"B2"},"transform":[{"filter":"datum.s=='body'"}],"mark":{"type":"line","color":"#111","strokeWidth":1.2},"encoding":{"order":{"value":null}}},
{"data":{"name":"L2"},"mark":"rule","encoding":{"x2":{"field":"x2"},"y2":{"field":"y2"},"color":{"field":"k","type":"nominal","legend":null,"scale":{"domain":["thin","dot","axis","thick","dd","cap","fd","fd2","fd3","fine","mid","line"],"range":["#111","#111","#111","#111","#111","#111","#111","#111","#111","#ffffff","#111","#111"]}},"size":{"field":"k","type":"ordinal","legend":null,"scale":{"type":"ordinal","domain":["thin","dot","axis","thick","dd","cap","fd","fd2","fd3","fine","mid","line"],"range":[1.1,1.1,1.5,3,3.3,2.2,3,3,3,1.3,1.8,1.2]}},"strokeDash":{"field":"k","type":"nominal","legend":null,"scale":{"domain":["thin","dot","axis","thick","dd","cap","fd","fd2","fd3","fine","mid","line"],"range":[[1,0],[1.2,1.1],[1,0],[1,0],[15,19,3,19,15,19,3,19,3,19],[1,0],[46,3],[24,5],[18,4],[1,0],[1,0],[1,0]]}}}},
{"data":{"values":[{"x":0.53,"x2":6.63,"y":3.63,"y2":4.4}]},"mark":{"type":"rect","fill":"white"},"encoding":{"x2":{"field":"x2"},"y2":{"field":"y2"}}},
{"data":{"values":[{"x":16.77,"y":-0.52}]},"mark":{"type":"point","shape":"circle","filled":false,"color":"#111","strokeWidth":1.2,"opacity":1,"size":491}},
{"data":{"values":[{"x":25.7,"y":0}]},"mark":{"type":"point","shape":"M-1,-0.72L1,0L-1,0.72Z","filled":true,"color":"#111","opacity":1,"size":324}},
{"data":{"values":[{"x":0,"y":4.79}]},"mark":{"type":"point","shape":"M-0.9,-1L0.9,-1L0,1Z","filled":true,"color":"#111","opacity":1,"size":289}},
{"data":{"name":"T2"},"mark":{"type":"text","align":"center","baseline":"middle","size":20},"encoding":{"text":{"field":"t"}}}
]},
{"width":610,"height":280,"encoding":{"x":{"field":"x","type":"quantitative","axis":null,"scale":{"domain":[-2.989,27.757],"nice":false,"zero":false}},"y":{"field":"y","type":"quantitative","axis":null,"scale":{"domain":[-1.11,6.47],"nice":false,"zero":false,"reverse":true}}},"layer":[
{"data":{"name":"c3"},"mark":{"type":"area","color":"#d0e8f4"},"encoding":{"y2":{"datum":0}}},
{"data":{"name":"bd3"},"mark":{"type":"area","color":"#d4e6c8"},"encoding":{"y2":{"field":"y0"}}},
{"data":{"name":"l3"},"mark":"rule","encoding":{"x2":{"field":"x2"},"y2":{"field":"y2"},"color":{"field":"k","type":"nominal","legend":null,"scale":{"domain":["thin","dot","axis","thick","dd","cap","fd","fd2","fd3","fine","mid","line"],"range":["#111","#111","#111","#111","#111","#111","#111","#111","#111","#ffffff","#111","#111"]}},"size":{"field":"k","type":"ordinal","legend":null,"scale":{"type":"ordinal","domain":["thin","dot","axis","thick","dd","cap","fd","fd2","fd3","fine","mid","line"],"range":[1.1,1.1,1.5,3,3.3,2.2,3,3,3,1.3,1.8,1.2]}},"strokeDash":{"field":"k","type":"nominal","legend":null,"scale":{"domain":["thin","dot","axis","thick","dd","cap","fd","fd2","fd3","fine","mid","line"],"range":[[1,0],[1.2,1.1],[1,0],[1,0],[15,19,3,19,15,19,3,19,3,19],[1,0],[46,3],[24,5],[18,4],[1,0],[1,0],[1,0]]}}}},
{"data":{"name":"c3"},"mark":{"type":"line","color":"#111","strokeWidth":1.3}},
{"data":{"values":[{"x":25.73,"y":5.73}]},"mark":{"type":"point","shape":"M-1,-0.72L1,0L-1,0.72Z","filled":true,"color":"#111","opacity":1,"size":324}},
{"data":{"values":[{"x":0,"y":6.14}]},"mark":{"type":"point","shape":"M-0.9,-1L0.9,-1L0,1Z","filled":true,"color":"#111","opacity":1,"size":289}},
{"data":{"name":"t3"},"mark":{"type":"text","align":"center","baseline":"middle"},"encoding":{"text":{"field":"t"},"size":{"condition":{"test":"datum.t[0]=='Δ'","value":21},"value":20}}},
{"data":{"values":[{"x":3.87,"y":-0.72,"t":"ПР. 3"}]},"mark":{"type":"text","align":"center","baseline":"middle","fontWeight":"bold","size":20},"encoding":{"text":{"field":"t"}}}
]},
{"width":608,"height":280,"encoding":{"x":{"field":"x","type":"quantitative","axis":null,"scale":{"domain":[-3.614,27.03],"nice":false,"zero":false}},"y":{"field":"y","type":"quantitative","axis":null,"scale":{"domain":[-1.094,6.44],"nice":false,"zero":false,"reverse":true}}},"layer":[
{"data":{"name":"c4"},"mark":{"type":"area","color":"#d0e8f4"},"encoding":{"y2":{"datum":0}}},
{"data":{"name":"bd4"},"mark":{"type":"area","color":"#d4e6c8"},"encoding":{"y2":{"field":"y0"}}},
{"data":{"name":"l4"},"mark":"rule","encoding":{"x2":{"field":"x2"},"y2":{"field":"y2"},"color":{"field":"k","type":"nominal","legend":null,"scale":{"domain":["thin","dot","axis","thick","dd","cap","fd","fd2","fd3","fine","mid","line"],"range":["#111","#111","#111","#111","#111","#111","#111","#111","#111","#ffffff","#111","#111"]}},"size":{"field":"k","type":"ordinal","legend":null,"scale":{"type":"ordinal","domain":["thin","dot","axis","thick","dd","cap","fd","fd2","fd3","fine","mid","line"],"range":[1.1,1.1,1.5,3,3.3,2.2,3,3,3,1.3,1.8,1.2]}},"strokeDash":{"field":"k","type":"nominal","legend":null,"scale":{"domain":["thin","dot","axis","thick","dd","cap","fd","fd2","fd3","fine","mid","line"],"range":[[1,0],[1.2,1.1],[1,0],[1,0],[15,19,3,19,15,19,3,19,3,19],[1,0],[46,3],[24,5],[18,4],[1,0],[1,0],[1,0]]}}}},
{"data":{"name":"c4"},"mark":{"type":"line","color":"#111","strokeWidth":1.3}},
{"data":{"values":[{"x":25.66,"y":5.72}]},"mark":{"type":"point","shape":"M-1,-0.72L1,0L-1,0.72Z","filled":true,"color":"#111","opacity":1,"size":324}},
{"data":{"values":[{"x":0,"y":6.13}]},"mark":{"type":"point","shape":"M-0.9,-1L0.9,-1L0,1Z","filled":true,"color":"#111","opacity":1,"size":289}},
{"data":{"name":"t4"},"mark":{"type":"text","align":"center","baseline":"middle"},"encoding":{"text":{"field":"t"},"size":{"condition":{"test":"datum.t[0]=='Δ'","value":21},"value":20}}},
{"data":{"values":[{"x":3.91,"y":-0.71,"t":"ПР. 4"}]},"mark":{"type":"text","align":"center","baseline":"middle","fontWeight":"bold","size":20},"encoding":{"text":{"field":"t"}}}
]},
{"width":610,"height":260,"encoding":{"x":{"field":"x","type":"quantitative","axis":null,"scale":{"domain":[-2.989,27.757],"nice":false,"zero":false}},"y":{"field":"y","type":"quantitative","axis":null,"scale":{"domain":[-1.073,5.903],"nice":false,"zero":false,"reverse":true}}},"layer":[
{"data":{"name":"B3"},"transform":[{"filter":"datum.s=='body'"}],"mark":{"type":"line","fill":"#ec6a80","strokeWidth":0},"encoding":{"order":{"value":null}}},
{"data":{"name":"P3"},"mark":{"type":"point","shape":"M-1,0L1,0M0,-1L0,1","filled":false,"stroke":"#ffffff","strokeWidth":1.4,"opacity":1,"size":225}},
{"data":{"name":"B3"},"mark":{"type":"line","fill":"#cccc1f","strokeWidth":0},"encoding":{"order":{"value":null}}},
{"data":{"name":"B3"},"transform":[{"filter":"datum.s=='body'"}],"mark":{"type":"line","color":"#111","strokeWidth":1.2},"encoding":{"order":{"value":null}}},
{"data":{"name":"L3"},"mark":"rule","encoding":{"x2":{"field":"x2"},"y2":{"field":"y2"},"color":{"field":"k","type":"nominal","legend":null,"scale":{"domain":["thin","dot","axis","thick","dd","cap","fd","fd2","fd3","fine","mid","line"],"range":["#111","#111","#111","#111","#111","#111","#111","#111","#111","#ffffff","#111","#111"]}},"size":{"field":"k","type":"ordinal","legend":null,"scale":{"type":"ordinal","domain":["thin","dot","axis","thick","dd","cap","fd","fd2","fd3","fine","mid","line"],"range":[1.1,1.1,1.5,3,3.3,2.2,3,3,3,1.3,1.8,1.2]}},"strokeDash":{"field":"k","type":"nominal","legend":null,"scale":{"domain":["thin","dot","axis","thick","dd","cap","fd","fd2","fd3","fine","mid","line"],"range":[[1,0],[1.2,1.1],[1,0],[1,0],[15,19,3,19,15,19,3,19,3,19],[1,0],[46,3],[24,5],[18,4],[1,0],[1,0],[1,0]]}}}},
{"data":{"values":[{"x":0.54,"x2":6.62,"y":3.6,"y2":4.4}]},"mark":{"type":"rect","fill":"white"},"encoding":{"x2":{"field":"x2"},"y2":{"field":"y2"}}},
{"data":{"values":[{"x":16.42,"y":-0.51}]},"mark":{"type":"point","shape":"circle","filled":false,"color":"#111","strokeWidth":1.2,"opacity":1,"size":491}},
{"data":{"values":[{"x":25.73,"y":0}]},"mark":{"type":"point","shape":"M-1,-0.72L1,0L-1,0.72Z","filled":true,"color":"#111","opacity":1,"size":324}},
{"data":{"values":[{"x":0,"y":5.35}]},"mark":{"type":"point","shape":"M-0.9,-1L0.9,-1L0,1Z","filled":true,"color":"#111","opacity":1,"size":289}},
{"data":{"name":"T3"},"mark":{"type":"text","align":"center","baseline":"middle","size":20},"encoding":{"text":{"field":"t"}}}
]},
{"width":608,"height":260,"encoding":{"x":{"field":"x","type":"quantitative","axis":null,"scale":{"domain":[-3.614,27.03],"nice":false,"zero":false}},"y":{"field":"y","type":"quantitative","axis":null,"scale":{"domain":[-1.091,5.885],"nice":false,"zero":false,"reverse":true}}},"layer":[
{"data":{"name":"B4"},"transform":[{"filter":"datum.s=='body'"}],"mark":{"type":"line","fill":"#ec6a80","strokeWidth":0},"encoding":{"order":{"value":null}}},
{"data":{"name":"P4"},"mark":{"type":"point","shape":"M-1,0L1,0M0,-1L0,1","filled":false,"stroke":"#ffffff","strokeWidth":1.4,"opacity":1,"size":225}},
{"data":{"name":"B4"},"mark":{"type":"line","fill":"#cccc1f","strokeWidth":0},"encoding":{"order":{"value":null}}},
{"data":{"name":"B4"},"transform":[{"filter":"datum.s=='body'"}],"mark":{"type":"line","color":"#111","strokeWidth":1.2},"encoding":{"order":{"value":null}}},
{"data":{"name":"L4"},"mark":"rule","encoding":{"x2":{"field":"x2"},"y2":{"field":"y2"},"color":{"field":"k","type":"nominal","legend":null,"scale":{"domain":["thin","dot","axis","thick","dd","cap","fd","fd2","fd3","fine","mid","line"],"range":["#111","#111","#111","#111","#111","#111","#111","#111","#111","#ffffff","#111","#111"]}},"size":{"field":"k","type":"ordinal","legend":null,"scale":{"type":"ordinal","domain":["thin","dot","axis","thick","dd","cap","fd","fd2","fd3","fine","mid","line"],"range":[1.1,1.1,1.5,3,3.3,2.2,3,3,3,1.3,1.8,1.2]}},"strokeDash":{"field":"k","type":"nominal","legend":null,"scale":{"domain":["thin","dot","axis","thick","dd","cap","fd","fd2","fd3","fine","mid","line"],"range":[[1,0],[1.2,1.1],[1,0],[1,0],[15,19,3,19,15,19,3,19,3,19],[1,0],[46,3],[24,5],[18,4],[1,0],[1,0],[1,0]]}}}},
{"data":{"values":[{"x":0.53,"x2":6.63,"y":3.59,"y2":4.38}]},"mark":{"type":"rect","fill":"white"},"encoding":{"x2":{"field":"x2"},"y2":{"field":"y2"}}},
{"data":{"values":[{"x":0.72,"y":-0.54},{"x":12.96,"y":-0.48}]},"mark":{"type":"point","shape":"circle","filled":false,"color":"#111","strokeWidth":1.2,"opacity":1,"size":491}},
{"data":{"values":[{"x":25.7,"y":0}]},"mark":{"type":"point","shape":"M-1,-0.72L1,0L-1,0.72Z","filled":true,"color":"#111","opacity":1,"size":324}},
{"data":{"values":[{"x":0,"y":5.33}]},"mark":{"type":"point","shape":"M-0.9,-1L0.9,-1L0,1Z","filled":true,"color":"#111","opacity":1,"size":289}},
{"data":{"name":"T4"},"mark":{"type":"text","align":"center","baseline":"middle","size":20},"encoding":{"text":{"field":"t"}}}
]},
{"width":610,"height":60,"encoding":{"x":{"field":"x","type":"quantitative","axis":null,"scale":{"domain":[-2.989,27.757],"nice":false,"zero":false}},"y":{"field":"y","type":"quantitative","axis":null,"scale":{"domain":[0,6],"nice":false,"zero":false,"reverse":true}}},"layer":[
{"data":{"values":[{"k":"p","x":-2.4,"x2":3.19,"y":1.5,"y2":6.3},{"k":"g","x":5.28,"x2":10.83,"y":1.5,"y2":6.3},{"k":"w","x":12.95,"x2":18.52,"y":1.5,"y2":6.3},{"k":"w","x":20.6,"x2":26.19,"y":1.5,"y2":6.3}]},"mark":{"type":"rect","stroke":"#333","strokeWidth":1},"encoding":{"x2":{"field":"x2"},"y2":{"field":"y2"},"fill":{"field":"k","type":"nominal","legend":null,"scale":{"domain":["p","g","w","b"],"range":["#ec6a80","#cccc1f","#ffffff","#d0e8f4"]}}}},
{"data":{"values":[{"x":-2,"y":3},{"x":-0.55,"y":3},{"x":0.92,"y":3},{"x":2.4,"y":3},{"x":-1.32,"y":4.33},{"x":0.15,"y":4.33},{"x":1.6,"y":4.33},{"x":-2,"y":5.67},{"x":-0.55,"y":5.67},{"x":0.92,"y":5.67},{"x":2.4,"y":5.67}]},"mark":{"type":"point","shape":"M-1,0L1,0M0,-1L0,1","filled":false,"stroke":"#ffffff","strokeWidth":1.4,"opacity":1,"size":225}},
{"data":{"values":[{"k":"fine","x":-1.32,"x2":-1.32,"y":1.6,"y2":2.2},{"k":"fine","x":0.15,"x2":0.15,"y":1.6,"y2":2.2},{"k":"fine","x":1.6,"x2":1.6,"y":1.6,"y2":2.2},{"k":"thick","x":12.99,"x2":14.26,"y":5.17,"y2":4.17},{"k":"thick","x":15.54,"x2":16.91,"y":2.83,"y2":1.73},{"k":"fd3","x":14.46,"x2":18.48,"y":5.93,"y2":2.27},{"k":"mid","x":20.6,"x2":26.19,"y":1.57,"y2":6}]},"mark":"rule","encoding":{"x2":{"field":"x2"},"y2":{"field":"y2"},"color":{"field":"k","type":"nominal","legend":null,"scale":{"domain":["thin","dot","axis","thick","dd","cap","fd","fd2","fd3","fine","mid","line"],"range":["#111","#111","#111","#111","#111","#111","#111","#111","#111","#ffffff","#111","#111"]}},"size":{"field":"k","type":"ordinal","legend":null,"scale":{"type":"ordinal","domain":["thin","dot","axis","thick","dd","cap","fd","fd2","fd3","fine","mid","line"],"range":[1.1,1.1,1.5,3,3.3,2.2,3,3,3,1.3,1.8,1.2]}},"strokeDash":{"field":"k","type":"nominal","legend":null,"scale":{"domain":["thin","dot","axis","thick","dd","cap","fd","fd2","fd3","fine","mid","line"],"range":[[1,0],[1.2,1.1],[1,0],[1,0],[15,19,3,19,15,19,3,19,3,19],[1,0],[46,3],[24,5],[18,4],[1,0],[1,0],[1,0]]}}}},
{"data":{"values":[{"x":14.89,"y":3.23}]},"mark":{"type":"point","shape":"circle","filled":true,"fill":"white","stroke":"#111","strokeWidth":1.2,"opacity":1,"size":491}},
{"data":{"values":[{"x":14.89,"y":3.23,"t":"1"},{"x":13.44,"y":2.5,"t":"а"},{"x":17.85,"y":5.0,"t":"б"}]},"mark":{"type":"text","align":"center","baseline":"middle","size":20},"encoding":{"text":{"field":"t"}}},
{"data":{"values":[{"x":3.87,"y":3.93,"t":"1"},{"x":11.62,"y":3.93,"t":"2"},{"x":19.3,"y":3.93,"t":"3"},{"x":27.0,"y":3.93,"t":"4"}]},"mark":{"type":"text","align":"center","baseline":"middle","size":20,"fontStyle":"italic"},"encoding":{"text":{"field":"t"}}}
]},
{"width":608,"height":60,"encoding":{"x":{"field":"x","type":"quantitative","axis":null,"scale":{"domain":[-3.614,27.03],"nice":false,"zero":false}},"y":{"field":"y","type":"quantitative","axis":null,"scale":{"domain":[0,6],"nice":false,"zero":false,"reverse":true}}},"layer":[
{"data":{"values":[{"k":"w","x":-3.09,"x2":2.46,"y":1.5,"y2":6.3},{"k":"b","x":4.59,"x2":10.16,"y":1.5,"y2":6.3},{"k":"p","x":12.26,"x2":17.83,"y":1.5,"y2":6.3},{"k":"w","x":19.9,"x2":25.9,"y":1.5,"y2":6.3}]},"mark":{"type":"rect","stroke":"#333","strokeWidth":1},"encoding":{"x2":{"field":"x2"},"y2":{"field":"y2"},"fill":{"field":"k","type":"nominal","legend":null,"scale":{"domain":["p","g","w","b"],"range":["#ec6a80","#cccc1f","#ffffff","#d0e8f4"]}}}},
{"data":{"values":[{"x":8.05,"x2":10.07,"y":2.83,"y2":4.93}]},"mark":{"type":"rect","fill":"#d4e6c8"},"encoding":{"x2":{"field":"x2"},"y2":{"field":"y2"}}},
{"data":{"values":[{"x":13.0,"y":2.9},{"x":14.4,"y":2.9},{"x":15.85,"y":2.9},{"x":17.25,"y":2.9},{"x":13.7,"y":4.2},{"x":15.1,"y":4.2},{"x":16.55,"y":4.2},{"x":13.0,"y":5.67},{"x":14.4,"y":5.67},{"x":15.85,"y":5.67},{"x":17.25,"y":5.67}]},"mark":{"type":"point","shape":"M-1,0L1,0M0,-1L0,1","filled":false,"stroke":"#ffffff","strokeWidth":1.4,"opacity":1,"size":225}},
{"data":{"values":[{"k":"fine","x":13.7,"x2":13.7,"y":1.6,"y2":2.2},{"k":"fine","x":15.1,"x2":15.1,"y":1.6,"y2":2.2},{"k":"fine","x":16.55,"x2":16.55,"y":1.6,"y2":2.2},{"k":"thick","x":-1.9,"x2":-1.23,"y":2.4,"y2":3.07},{"k":"thick","x":-0.33,"x2":-0.17,"y":3.78,"y2":3.88},{"k":"thick","x":0.72,"x2":1.41,"y":4.67,"y2":5.27},{"k":"thick","x":-2.93,"x2":-2.85,"y":1.67,"y2":1.72},{"k":"thick","x":2.33,"x2":2.41,"y":5.9,"y2":5.95},{"k":"line","x":8.05,"x2":10.13,"y":3.83,"y2":3.83},{"k":"cap","x":8.05,"x2":8.05,"y":3.23,"y2":4.5},{"k":"line","x":15.69,"x2":17.83,"y":3.83,"y2":3.83},{"k":"cap","x":15.69,"x2":15.69,"y":3.23,"y2":4.5}]},"mark":"rule","encoding":{"x2":{"field":"x2"},"y2":{"field":"y2"},"color":{"field":"k","type":"nominal","legend":null,"scale":{"domain":["thin","dot","axis","thick","dd","cap","fd","fd2","fd3","fine","mid","line"],"range":["#111","#111","#111","#111","#111","#111","#111","#111","#111","#ffffff","#111","#111"]}},"size":{"field":"k","type":"ordinal","legend":null,"scale":{"type":"ordinal","domain":["thin","dot","axis","thick","dd","cap","fd","fd2","fd3","fine","mid","line"],"range":[1.1,1.1,1.5,3,3.3,2.2,3,3,3,1.3,1.8,1.2]}},"strokeDash":{"field":"k","type":"nominal","legend":null,"scale":{"domain":["thin","dot","axis","thick","dd","cap","fd","fd2","fd3","fine","mid","line"],"range":[[1,0],[1.2,1.1],[1,0],[1,0],[15,19,3,19,15,19,3,19,3,19],[1,0],[46,3],[24,5],[18,4],[1,0],[1,0],[1,0]]}}}},
{"data":{"values":[{"x":6.25,"y":3.93,"t":"ПР.1-4"},{"x":13.94,"y":3.93,"t":"ПР.1-4"},{"x":22.99,"y":3.93,"t":"ε=±0.5 мГал"}]},"mark":{"type":"text","align":"center","baseline":"middle","size":19},"encoding":{"text":{"field":"t"}}},
{"data":{"values":[{"x":3.26,"y":3.93,"t":"5"},{"x":10.94,"y":3.93,"t":"6"},{"x":18.6,"y":3.93,"t":"7"},{"x":26.78,"y":3.93,"t":"8"}]},"mark":{"type":"text","align":"center","baseline":"middle","size":20,"fontStyle":"italic"},"encoding":{"text":{"field":"t"}}}
]}
]}
